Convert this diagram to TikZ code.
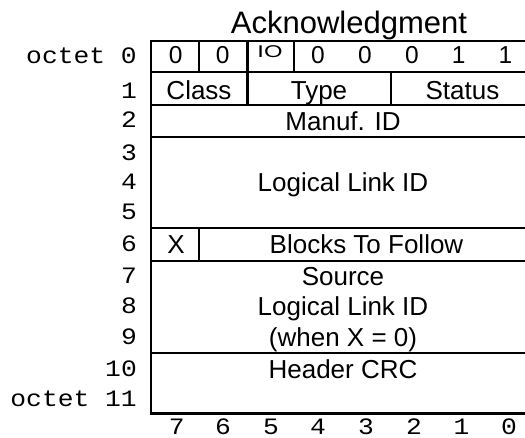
\documentclass[tikz,border=0pt]{standalone}
\usepackage{fontspec}
\setmainfont{Liberation Sans}
\setmonofont[FakeStretch=1.12]{Liberation Mono}
\begin{document}
\begin{tikzpicture}[x=1pt,y=-1pt,
  ln/.style={line width=2.2pt},
  body/.style={anchor=base,inner sep=0pt,font=\fontsize{26}{28}\selectfont},
  dig/.style={anchor=base,inner sep=0pt,font=\fontsize{24.5}{26}\selectfont},
  small/.style={anchor=base,inner sep=0pt,font=\fontsize{17}{19}\selectfont,xscale=1.4},
  title/.style={anchor=base,inner sep=0pt,font=\fontsize{31}{33}\selectfont},
  lab/.style={anchor=base east,inner sep=0pt,font=\ttfamily\fontsize{23.5}{26}\selectfont},
  bit/.style={anchor=base,inner sep=0pt,font=\ttfamily\fontsize{23.5}{26}\selectfont}]
\useasboundingbox (0,0) rectangle (525,438);
% frame
\draw[ln] (525,40.7) -- (151,40.7) -- (151,413.5) -- (525,413.5);
\foreach \y in {72,105,136.7,228,261,352.7}
  \draw[ln] (151,\y) -- (525,\y);
% dividers
\foreach \x in {199.2,247.5,294}
  \draw[ln] (\x,40.7) -- (\x,72);
\foreach \x in {247.5,391}
  \draw[ln] (\x,72) -- (\x,105);
\draw[ln] (199.2,228) -- (199.2,261);
% title
\node[title] (t) at (349,33.3) {Acknowledgment};
% row 0
\node[dig] (b7) at (175.8,63.6) {0};
\node[dig] (b6) at (222.6,63.6) {0};
\node[small] (b5) at (270,57.3) {IO};
\node[dig] (b4) at (318,63.6) {0};
\node[dig] (b3) at (365,63.6) {0};
\node[dig] (b2) at (412,63.6) {0};
\node[dig] (b1) at (458.7,63.6) {1};
\node[dig] (b0) at (505.5,63.6) {1};
% row 1
\node[body] (cls) at (199,99.4) {Class};
\node[body] (typ) at (319,99.4) {Type};
\node[body] (sts) at (462.5,99.4) {Status};
% fields
\node[body] (man) at (343,130.8) {Manuf. ID};
\node[body] (llid) at (343,192) {Logical Link ID};
\node[body] (x) at (176,253.4) {X};
\node[body] (btf) at (366.5,253.4) {Blocks To Follow};
\node[body] (src1) at (343,285.7) {Source};
\node[body] (src2) at (343,316) {Logical Link ID};
\node[body] (src3) at (343,347) {(when X = 0)};
\node[body] (crc) at (343,378) {Header CRC};
% row labels
\node[lab] (r0) at (137,63.6) {octet 0};
\node[lab] (r1) at (137,98.8) {1};
\node[lab] (r2) at (137,127.5) {2};
\node[lab] (r3) at (137,160.3) {3};
\node[lab] (r4) at (137,189.7) {4};
\node[lab] (r5) at (137,219.5) {5};
\node[lab] (r6) at (137,251.8) {6};
\node[lab] (r7) at (137,283.6) {7};
\node[lab] (r8) at (137,313.7) {8};
\node[lab] (r9) at (137,344.8) {9};
\node[lab] (r10) at (137,376.3) {10};
\node[lab] (r11) at (137,406.4) {octet 11};
% bit labels
\node[bit] (n7) at (176.7,434.5) {7};
\node[bit] (n6) at (223,434.5) {6};
\node[bit] (n5) at (271,434.5) {5};
\node[bit] (n4) at (318,434.5) {4};
\node[bit] (n3) at (366,434.5) {3};
\node[bit] (n2) at (414,434.5) {2};
\node[bit] (n1) at (461.5,434.5) {1};
\node[bit] (n0) at (509,434.5) {0};
\end{tikzpicture}
\end{document}
